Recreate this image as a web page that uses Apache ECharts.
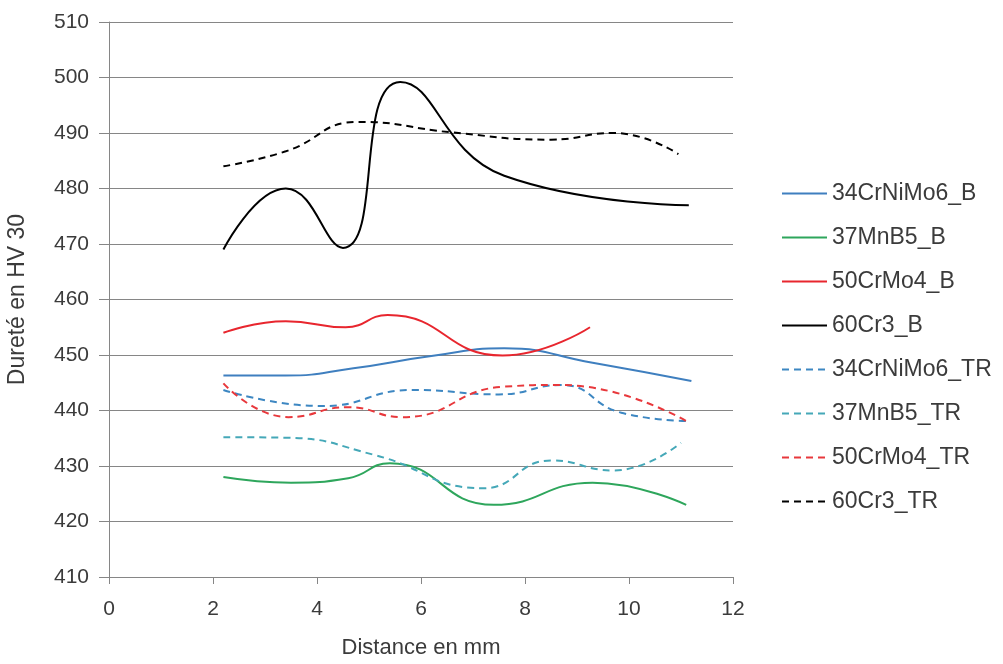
<!DOCTYPE html>
<html>
<head>
<meta charset="utf-8">
<script src="https://cdn.jsdelivr.net/npm/echarts@6/dist/echarts.min.js"></script>
<style>
html,body{margin:0;padding:0;background:#fff;}
#chart{width:1003px;height:664px;}
</style>
</head>
<body>
<div id="chart"></div>
<script>
// ---- data ----
const seriesNames = ["34CrNiMo6_B","37MnB5_B","50CrMo4_B","60Cr3_B","34CrNiMo6_TR","37MnB5_TR","50CrMo4_TR","60Cr3_TR"];

const b34_x = [2.2, 3.4, 4.7, 6.2, 7.6, 9.3, 11.2];
const b34_y = [446.3, 446.3, 447.6, 449.8, 451.2, 448.6, 445.3];

const b37_x = [2.2, 3.5, 4.6, 5.4, 7.4, 9.3, 11.1];
const b37_y = [428, 427, 427.8, 430.5, 423, 427, 423];

const b50_x = [2.2, 3.4, 4.55, 5.36, 7.57, 9.25];
const b50_y = [454, 456.1, 455, 457.2, 449.9, 455];

const b60_x = [2.2, 3.4, 4.5, 5.6, 7.6, 11.15];
const b60_y = [469, 480, 469.3, 499.2, 482.3, 477];

const tr34_x = [2.2, 4.1, 5.85, 7.5, 8.7, 9.85, 11.15];
const tr34_y = [443.7, 440.8, 443.7, 442.9, 444.6, 439.6, 438.1];

const tr37_x = [2.2, 3.4, 5.1, 7.2, 8.5, 9.7, 11.0];
const tr37_y = [435.2, 435.1, 432, 426, 431, 429.2, 434.2];

const tr50_x = [2.2, 3.45, 4.6, 5.65, 7.6, 8.7, 11.1];
const tr50_y = [444.9, 438.8, 440.6, 438.8, 444.3, 444.6, 438.1];

const tr60_x = [2.2, 3.4, 4.8, 6.6, 8.5, 9.7, 10.95];
const tr60_y = [484, 486.7, 492, 490.1, 488.8, 490, 486.2];

const xTicks = {min: 0, max: 12, interval: 2};
const yTicks = {min: 410, max: 510, interval: 10};

// ---- styles ----
const colors = ["#3f7fbf","#2ea65c","#e8262e","#000000","#3d87c2","#45a8b8","#e8383c","#000000"];
const solid = [true,true,true,true,false,false,false,false];
const xs = [b34_x,b37_x,b50_x,b60_x,tr34_x,tr37_x,tr50_x,tr60_x];
const ys = [b34_y,b37_y,b50_y,b60_y,tr34_y,tr37_y,tr50_y,tr60_y];

const FONT = "Liberation Sans";
const TXT = "#3b3b3b";
const AX = "#868686";

const series = seriesNames.map((n,i)=>({
  name:n,
  type:"line",
  smooth:0.5,
  symbol:"none",
  data: xs[i].map((x,k)=>[x, ys[i][k]]),
  lineStyle:{color:colors[i], width:2, type: solid[i] ? "solid" : [7,5]},
  itemStyle:{color:colors[i]},
  z: 3
}));

const chart = echarts.init(document.getElementById("chart"), null, {renderer:"canvas"});
chart.setOption({
  animation:false,
  backgroundColor:"#fff",
  grid:{left:109, right:270, top:22, bottom:87, containLabel:false, outerBoundsMode:"none"},
  xAxis:{
    type:"value", min:xTicks.min, max:xTicks.max, interval:xTicks.interval,
    name:"Distance en mm", nameLocation:"middle", nameGap:60,
    nameTextStyle:{fontFamily:FONT, fontSize:22, color:TXT},
    axisLine:{show:true, onZero:false, lineStyle:{color:AX, width:1}},
    axisTick:{show:true, inside:false, length:7, lineStyle:{color:AX}},
    axisLabel:{fontFamily:FONT, fontSize:21, color:TXT, margin:22},
    splitLine:{show:false}
  },
  yAxis:{
    type:"value", min:yTicks.min, max:yTicks.max, interval:yTicks.interval,
    name:"Dureté en HV 30", nameLocation:"middle", nameGap:80, nameRotate:90,
    nameTextStyle:{fontFamily:FONT, fontSize:23, color:TXT},
    axisLine:{show:true, lineStyle:{color:AX, width:1}},
    axisTick:{show:true, inside:false, length:10, lineStyle:{color:AX}},
    axisLabel:{fontFamily:FONT, fontSize:21, color:TXT, margin:20},
    splitLine:{show:true, lineStyle:{color:AX, width:1}}
  },
  legend:{
    orient:"vertical", left:776, top:177,
    itemWidth:45, itemHeight:14, itemGap:21,
    itemStyle:{opacity:0},
    textStyle:{fontFamily:FONT, fontSize:23, color:TXT},
    data: seriesNames
  },
  series: series
});
</script>
</body>
</html>
